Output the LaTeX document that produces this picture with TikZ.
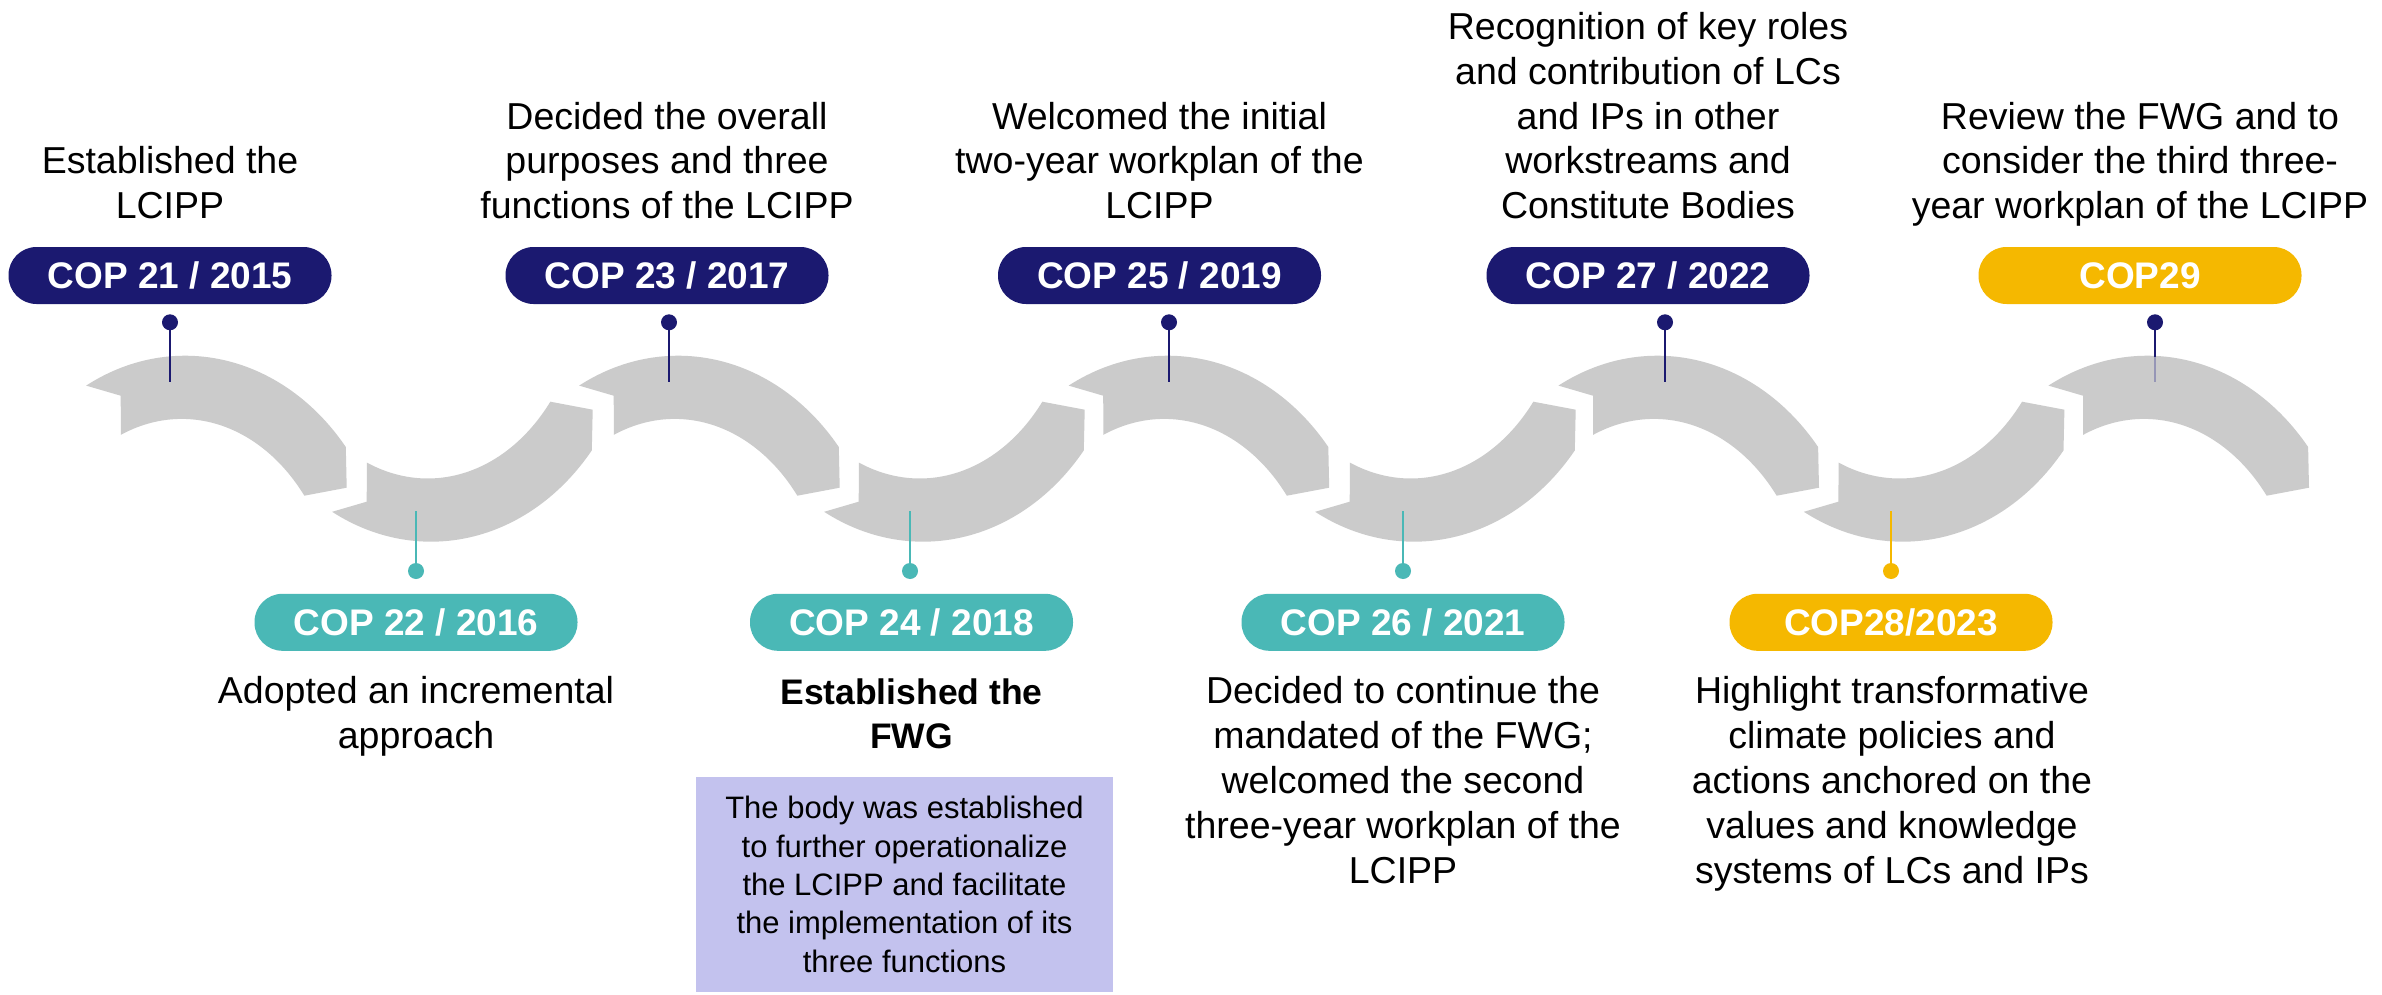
\documentclass[tikz,border=0pt]{standalone}
\usepackage{fontspec}
\setmainfont{Liberation Sans}
\definecolor{copnavy}{RGB}{27,25,112}
\definecolor{copteal}{RGB}{74,184,182}
\definecolor{copgold}{RGB}{245,184,0}
\definecolor{bandgrey}{RGB}{203,203,203}
\definecolor{boxlav}{RGB}{195,194,238}
\definecolor{fadeline}{RGB}{150,150,182}
% one wave piece, relative to its left outer corner (image coordinates, y down)
\newcommand{\wavepiecepath}{plot[domain=0:1,samples=60] ({99+206.5*cos(118.6-79.8*\x)},{215-245*sin(118.6-79.8*\x)}) -- (260.7,102) -- (218.3,110) -- plot[domain=0:1,samples=60] ({95.7+156*cos(38.2+74.8*\x)},{234.2-201*sin(38.2+74.8*\x)}) -- (34.7,10) -- cycle}
\begin{document}
\begin{tikzpicture}[x=1pt,y=-1pt,
  band/.style={fill=bandgrey},
  coplabel/.style={rectangle, rounded corners=28pt, minimum width=323pt, minimum height=57pt, inner sep=0pt, text=white, font=\fontsize{37}{44}\selectfont\bfseries},
  topcop/.style={coplabel, fill=copnavy},
  botcop/.style={coplabel, fill=copteal},
  goldcop/.style={coplabel, fill=copgold},
  desc/.style={align=center, inner sep=0pt, text depth=0pt, anchor=south, font=\fontsize{37.5}{44.8}\selectfont},
  descbold/.style={desc, font=\fontsize{35.5}{44}\selectfont\bfseries},
  pinline/.style={line width=2.8pt},
  pindot/.style={circle, inner sep=0pt, minimum size=16pt}]
\fill[white] (0,0) rectangle (2382,995);
\useasboundingbox (0,0) rectangle (2382,995);

% wave pieces (top arcs)
\fill[band, shift={(86,385.7)}] \wavepiecepath;
\fill[band, shift={(579,385.7)}] \wavepiecepath;
\fill[band, shift={(1068.5,385.7)}] \wavepiecepath;
\fill[band, shift={(1558.3,385.7)}] \wavepiecepath;
\fill[band, shift={(2048.3,385.7)}] \wavepiecepath;
% wave pieces (bottom arcs)
\fill[band, shift={(332,511.7)}, yscale=-1] \wavepiecepath;
\fill[band, shift={(824,511.7)}, yscale=-1] \wavepiecepath;
\fill[band, shift={(1315,511.7)}, yscale=-1] \wavepiecepath;
\fill[band, shift={(1803.7,511.7)}, yscale=-1] \wavepiecepath;

% top pins
\node[pindot, fill=copnavy] (p21) at (170,322.3) {};
\coordinate (p21e) at (170,381.7);
\draw[pinline, copnavy] (p21.center) -- (p21e);
\node[pindot, fill=copnavy] (p23) at (669,322.3) {};
\coordinate (p23e) at (669,381.7);
\draw[pinline, copnavy] (p23.center) -- (p23e);
\node[pindot, fill=copnavy] (p25) at (1169,322.3) {};
\coordinate (p25e) at (1169,381.7);
\draw[pinline, copnavy] (p25.center) -- (p25e);
\node[pindot, fill=copnavy] (p27) at (1665,322.3) {};
\coordinate (p27e) at (1665,381.7);
\draw[pinline, copnavy] (p27.center) -- (p27e);
\node[pindot, fill=copnavy] (p29) at (2155,322.3) {};
\coordinate (p29m) at (2155,356.5);
\coordinate (p29e) at (2155,381.7);
\draw[pinline, copnavy] (p29.center) -- (p29m);
\draw[pinline, fadeline] (p29m) -- (p29e);

% bottom pins
\node[pindot, fill=copteal] (p22) at (416,571) {};
\coordinate (p22e) at (416,511);
\draw[pinline, copteal] (p22.center) -- (p22e);
\node[pindot, fill=copteal] (p24) at (910,571) {};
\coordinate (p24e) at (910,511);
\draw[pinline, copteal] (p24.center) -- (p24e);
\node[pindot, fill=copteal] (p26) at (1403,571) {};
\coordinate (p26e) at (1403,511);
\draw[pinline, copteal] (p26.center) -- (p26e);
\node[pindot, fill=copgold] (p28) at (1891,571) {};
\coordinate (p28e) at (1891,511);
\draw[pinline, copgold] (p28.center) -- (p28e);

% labels
\node[topcop] (c21) at (170,275.5) {COP 21 / 2015};
\node[topcop] (c23) at (667,275.5) {COP 23 / 2017};
\node[topcop] (c25) at (1159.5,275.5) {COP 25 / 2019};
\node[topcop] (c27) at (1648,275.5) {COP 27 / 2022};
\node[goldcop] (c29) at (2140,275.5) {COP29};
\node[botcop] (c22) at (416,622.3) {COP 22 / 2016};
\node[botcop] (c24) at (911.5,622.3) {COP 24 / 2018};
\node[botcop] (c26) at (1403,622.3) {COP 26 / 2021};
\node[goldcop] (c28) at (1891,622.3) {COP28/2023};

% descriptions (top)
\node[desc] (t21) at (170,219) {Established the\\LCIPP};
\node[desc] (t23) at (667,219) {Decided the overall\\purposes and three\\functions of the LCIPP};
\node[desc] (t25) at (1159.5,219) {Welcomed the initial\\two-year workplan of the\\LCIPP};
\node[desc] (t27) at (1648,219) {Recognition of key roles\\and contribution of LCs\\and IPs in other\\workstreams and\\Constitute Bodies};
\node[desc] (t29) at (2140,219) {Review the FWG and to\\consider the third three-\\year workplan of the LCIPP};

% descriptions (bottom)
\node[desc] (t22) at (416,748.8) {Adopted an incremental\\approach};
\node[descbold] (t24) at (911.5,748.5) {Established the\\FWG};
\node[desc] (t26) at (1403,883.2) {Decided to continue the\\mandated of the FWG;\\welcomed the second\\three-year workplan of the\\LCIPP};
\node[desc] (t28) at (1892,883.2) {Highlight transformative\\climate policies and\\actions anchored on the\\values and knowledge\\systems of LCs and IPs};

% FWG box
\node[fill=boxlav, minimum width=417pt, minimum height=215pt, inner sep=0pt, align=center, font=\fontsize{31}{38.3}\selectfont] (fwgbox) at (904.5,884.5) {The body was established\\to further operationalize\\the LCIPP and facilitate\\the implementation of its\\three functions};
\end{tikzpicture}
\end{document}
